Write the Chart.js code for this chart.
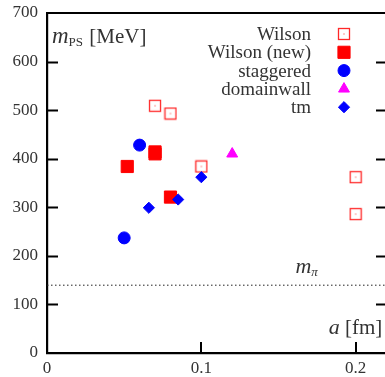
<!DOCTYPE html>
<html>
<head>
<meta charset="utf-8">
<script src="https://cdn.jsdelivr.net/npm/chart.js@4/dist/chart.umd.min.js"></script>
<style>
  html, body { margin: 0; padding: 0; overflow: hidden; background: #fff; }
  canvas { display: block; }
</style>
</head>
<body>
<canvas id="myChart" width="385" height="377" style="width:385px;height:377px"></canvas>
<script>
// lattice spacing a [fm] and pseudoscalar mass [MeV] per action
const wilsonA = [0.07, 0.08, 0.1, 0.2, 0.2];
const wilsonM = [509, 493, 384, 362, 286];
const wilsonNewA = [0.052, 0.07, 0.07, 0.08];
const wilsonNewM = [384, 410, 414, 321];
const staggeredA = [0.06, 0.05];
const staggeredM = [428, 237];
const domainwallA = [0.12];
const domainwallM = [410];
const tmA = [0.1, 0.066, 0.085];
const tmM = [362, 299, 316];
const mPi = 139.6;
const xTicks = [0, 0.1, 0.2];
const yTicks = [0, 100, 200, 300, 400, 500, 600, 700];

const pts = (xs, ys) => xs.map((x, i) => ({x: x, y: ys[i]}));

// open square with a dot in the middle (gnuplot style)
const openSq = document.createElement("canvas");
openSq.width = 14; openSq.height = 14;
(() => {
  const c = openSq.getContext("2d");
  c.strokeStyle = "rgb(255,40,40)";
  c.lineWidth = 1.3;
  c.strokeRect(1.5, 1.5, 11, 11);
  c.fillStyle = "rgb(255,40,40)";
  c.fillRect(6.5, 6.5, 1, 1);
})();

const FONT = "'Liberation Serif', 'DejaVu Serif', serif";
const TXT = "#333";

// keep the plot box where the picture has it, no automatic label room
const noPad = s => { s.paddingTop = 0; s.paddingBottom = 0; s.paddingLeft = 0; s.paddingRight = 0; };

const frame = {
  id: "frame",
  afterDraw(chart) {
    const {ctx, chartArea: a, scales} = chart;
    const x = scales.x, y = scales.y;
    ctx.save();
    ctx.strokeStyle = "#000";
    ctx.lineWidth = 2.2;
    ctx.beginPath();
    // the right edge of the frame falls just outside the picture
    ctx.moveTo(a.left, a.top); ctx.lineTo(a.right, a.top);
    ctx.stroke();
    ctx.lineWidth = 2;
    ctx.beginPath();
    yTicks.slice(1, -1).forEach(v => {
      const py = Math.round(y.getPixelForValue(v)) + 0.5;
      ctx.moveTo(a.left, py); ctx.lineTo(a.left + 11, py);
      ctx.moveTo(a.right, py); ctx.lineTo(a.right - 9, py);
    });
    xTicks.slice(1).forEach(v => {
      const px = Math.round(x.getPixelForValue(v));
      ctx.moveTo(px, a.bottom); ctx.lineTo(px, a.bottom - 11);
    });
    ctx.stroke();

    // axis labels
    ctx.fillStyle = TXT;
    ctx.textBaseline = "alphabetic";
    ctx.textAlign = "left";
    let px = a.left + 5, py = a.top + 30;
    ctx.font = "italic 23px " + FONT;
    ctx.fillText("m", px, py);
    px += ctx.measureText("m").width;
    ctx.font = "13px " + FONT;
    ctx.fillText("PS", px, py + 3);
    px += ctx.measureText("PS").width;
    ctx.font = "21px " + FONT;
    ctx.fillText(" [MeV]", px + 1, py);

    px = x.getPixelForValue(0.161); py = y.getPixelForValue(mPi) - 12;
    ctx.font = "italic 22px " + FONT;
    ctx.fillText("m", px, py);
    px += ctx.measureText("m").width;
    ctx.font = "italic 13px " + FONT;
    ctx.fillText("\u03c0", px, py + 3);

    px = x.getPixelForValue(0.1825); py = a.bottom - 19;
    ctx.font = "italic 22px " + FONT;
    ctx.fillText("a", px, py);
    px += ctx.measureText("a").width;
    ctx.font = "21px " + FONT;
    ctx.fillText(" [fm]", px, py);

    // legend: text right aligned, marker on the right
    const rows = chart.data.datasets.filter(d => d.inLegend);
    rows.forEach((d, i) => {
      const ry = a.top + 21 + i * 18.3;
      ctx.font = "19px " + FONT;
      ctx.textAlign = "right";
      ctx.textBaseline = "middle";
      ctx.fillStyle = TXT;
      ctx.fillText(d.label, 311, ry + 1);
      ctx.fillStyle = d.backgroundColor;
      ctx.strokeStyle = d.borderColor;
      ctx.lineWidth = 1;
      Chart.helpers.drawPoint(ctx, {
        pointStyle: d.pointStyle, radius: d.pointRadius, rotation: 0, borderWidth: 1
      }, 344, ry);
    });
    ctx.restore();
  }
};

const data = {
  datasets: [
    {label: "m_pi", type: "line", data: pts([0, 0.219], [mPi, mPi]),
     borderColor: "#222", borderWidth: 1, borderDash: [1.5, 2.5], pointRadius: 0, order: 6},
    {label: "Wilson", data: pts(wilsonA, wilsonM), pointStyle: openSq, pointRadius: 7,
     backgroundColor: "rgba(0,0,0,0)", borderColor: "rgba(0,0,0,0)", inLegend: true, order: 5},
    {label: "Wilson (new)", data: pts(wilsonNewA, wilsonNewM), pointStyle: "rect", pointRadius: 8.6,
     backgroundColor: "rgb(255,0,0)", borderColor: "rgb(255,0,0)", inLegend: true, order: 4},
    {label: "staggered", data: pts(staggeredA, staggeredM), pointStyle: "circle", pointRadius: 6,
     backgroundColor: "rgb(0,0,255)", borderColor: "rgb(0,0,255)", inLegend: true, order: 3},
    {label: "domainwall", data: pts(domainwallA, domainwallM), pointStyle: "triangle", pointRadius: 6.3,
     backgroundColor: "rgb(255,0,255)", borderColor: "rgb(255,0,255)", inLegend: true, order: 2},
    {label: "tm", data: pts(tmA, tmM), pointStyle: "rectRot", pointRadius: 5.6,
     backgroundColor: "rgb(0,0,255)", borderColor: "rgb(0,0,255)", inLegend: true, order: 1}
  ]
};

const config = {
  type: "scatter",
  data,
  options: {
    responsive: false,
    animation: false,
    devicePixelRatio: 1,
    layout: {autoPadding: false, padding: {top: 13, right: 0, left: 0, bottom: 0}},
    elements: {point: {borderWidth: 1, hoverRadius: 0}},
    plugins: {legend: {display: false}, tooltip: {enabled: false}},
    scales: {
      x: {
        type: "linear", min: 0, max: 0.219,
        afterBuildTicks: s => { s.ticks = xTicks.map(v => ({value: v})); },
        afterFit: s => { s.height = 24; noPad(s); },
        grid: {display: false, drawTicks: false},
        border: {display: true, color: "#000", width: 2.2},
        ticks: {padding: 5, color: TXT, font: {family: FONT, size: 17},
                callback: v => String(v)}
      },
      y: {
        type: "linear", min: 0, max: 700,
        afterBuildTicks: s => { s.ticks = yTicks.map(v => ({value: v})); },
        afterFit: s => { s.width = 47; noPad(s); },
        grid: {display: false, drawTicks: false},
        border: {display: true, color: "#000", width: 2.2},
        ticks: {padding: 9, color: TXT, font: {family: FONT, size: 17}}
      }
    }
  },
  plugins: [frame]
};

const myChart = new Chart(document.getElementById("myChart"), config);
</script>
</body>
</html>
